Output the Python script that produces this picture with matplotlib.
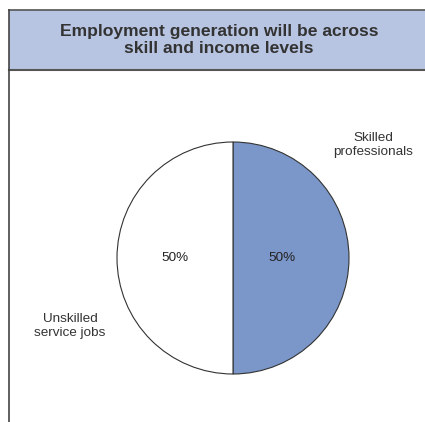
import matplotlib.pyplot as plt
from matplotlib.patches import Rectangle
from matplotlib.lines import Line2D

plt.rcParams["font.family"] = ["Liberation Sans", "DejaVu Sans"]

title = "Employment generation will be across\nskill and income levels"
labels = ["Skilled\nprofessionals", "Unskilled\nservice jobs"]
shares = [50, 50]
colors = ["#7b96c8", "#ffffff"]

W, H = 425, 422
fig = plt.figure(figsize=(W / 100, H / 100), dpi=100)
fig.patch.set_facecolor("white")

# header box
x0, y_top, y_bot = 9 / W, 1 - 10 / H, 1 - 70 / H
fig.patches.append(Rectangle((x0, y_bot), 1 - x0, y_top - y_bot, transform=fig.transFigure,
                             facecolor="#b8c5e2", edgecolor="none", zorder=0))
fig.lines.append(Line2D([x0, 1], [y_top, y_top], transform=fig.transFigure, color="#555555", lw=1.2))
fig.lines.append(Line2D([x0, 1], [y_bot, y_bot], transform=fig.transFigure, color="#555555", lw=1.5))
fig.lines.append(Line2D([x0, x0], [0, y_top], transform=fig.transFigure, color="#444444", lw=1.2))
fig.text((x0 + 1) / 2 + 0.005, (y_top + y_bot) / 2, title, ha="center", va="center",
         fontsize=12.6, fontweight="bold", color="#333333", linespacing=1.2)

# pie: centre (233, 258), radius ~116 px
cx, cy, r = 233, 258, 116
ax = fig.add_axes([(cx - r) / W, 1 - (cy + r) / H, 2 * r / W, 2 * r / H])
wedges, texts, pcts = ax.pie(shares, colors=colors, startangle=90, counterclock=False,
                             wedgeprops=dict(edgecolor="#333333", linewidth=0.8),
                             autopct="%d%%", pctdistance=0.5,
                             textprops=dict(fontsize=9.7, color="#222222"))
pcts[0].set_position((0.42, 0.0))
pcts[1].set_position((-0.5, 0.0))
ax.set_aspect("equal")
ax.set_xlim(-1.0, 1.0)
ax.set_ylim(-1.0, 1.0)
ax.axis("off")

# outside labels
fig.text(373 / W, 1 - 145 / H, labels[0], ha="center", va="center",
         fontsize=9.7, color="#333333", linespacing=1.3)
fig.text(70 / W, 1 - 326 / H, labels[1], ha="center", va="center",
         fontsize=9.7, color="#333333", linespacing=1.3)

fig.savefig("out.png", dpi=100, facecolor="white")
